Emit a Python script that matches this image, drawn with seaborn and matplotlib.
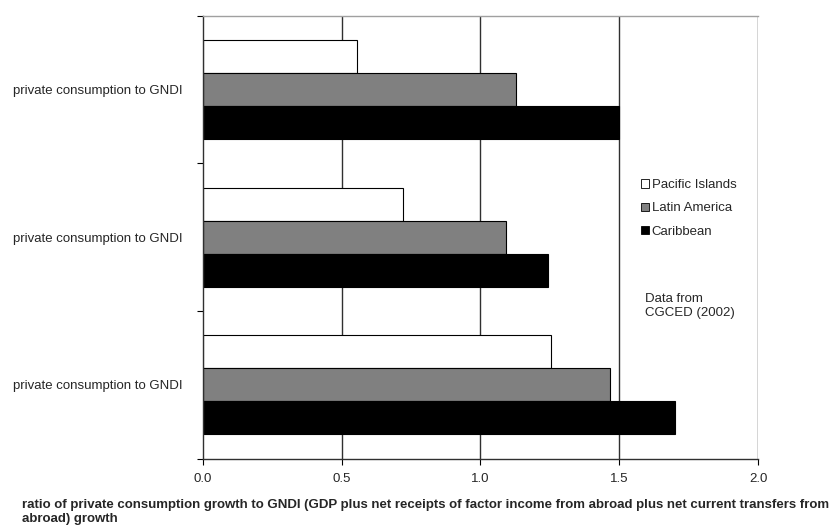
import matplotlib
matplotlib.use("Agg")
import matplotlib.pyplot as plt
import seaborn as sns
import pandas as pd

periods = ["p1", "p2", "p3"]
period_labels = ["private consumption to GNDI", "private consumption to GNDI", "private consumption to GNDI"]
regions = ["Pacific Islands", "Latin America", "Caribbean"]
pacific = [0.555, 0.72, 1.253]
latin = [1.13, 1.094, 1.466]
caribbean = [1.50, 1.242, 1.70]
xticks = [0.0, 0.5, 1.0, 1.5, 2.0]
xlabel = ("ratio of private consumption growth to GNDI (GDP plus net receipts of factor income from abroad plus net current transfers from\n"
          "abroad) growth")
note = "Data from\nCGCED (2002)"

rows = []
for i, p in enumerate(periods):
    rows.append((p, regions[0], pacific[i]))
    rows.append((p, regions[1], latin[i]))
    rows.append((p, regions[2], caribbean[i]))
df = pd.DataFrame(rows, columns=["period", "region", "value"])

sns.set_style("white")
plt.rcParams['font.family'] = ['Liberation Sans', 'DejaVu Sans']

W, H = 838, 526
fig = plt.figure(figsize=(W / 100, H / 100), dpi=100)
left, right, top, bottom = 202.7, 758.0, 15.7, 458.5
ax = fig.add_axes([left / W, 1 - bottom / H, (right - left) / W, (bottom - top) / H])

palette = {"Pacific Islands": "#ffffff", "Latin America": "#808080", "Caribbean": "#000000"}
sns.barplot(data=df, y="period", x="value", hue="region", order=periods, hue_order=regions,
            palette=palette, orient="h", width=0.67, edgecolor="black", linewidth=0.8,
            saturation=1, ax=ax, legend=True)

ax.set_xlim(0, 2.0)
ax.set_ylim(2.5, -0.5)
ax.set_xticks(xticks)
ax.set_xticklabels([f"{t:.1f}" for t in xticks], fontsize=9.5)
ax.set_yticks([0, 1, 2])
ax.set_yticklabels(period_labels, fontsize=9.5)
ax.tick_params(axis='y', length=0, pad=14.5)
ax.tick_params(axis='x', length=4, width=0.8, color='black', pad=6.8, bottom=True)
ax.set_yticks([-0.5, 0.5, 1.5, 2.5], minor=True)
ax.tick_params(axis='y', which='minor', length=4, width=0.8, color='black', left=True)
ax.set_xlabel("")
ax.set_ylabel("")

for x in xticks[1:]:
    ax.axvline(x, color='#303030', lw=1.0, zorder=0)
ax.set_axisbelow(True)

ax.spines["right"].set_visible(False)
ax.spines["top"].set_color("#a0a0a0")
ax.spines["top"].set_linewidth(1.0)
for s in ["left", "bottom"]:
    ax.spines[s].set_color("#303030")
    ax.spines[s].set_linewidth(1.0)

leg = ax.legend(loc="upper left", bbox_to_anchor=(641 / W, 1 - 179 / H),
                bbox_transform=fig.transFigure, frameon=False, fontsize=9.5,
                handlelength=0.6, handleheight=0.6, handletextpad=0.2, labelspacing=0.86,
                borderaxespad=0, borderpad=0)
for h in leg.legend_handles:
    h.set_edgecolor("black")
    h.set_linewidth(0.6)

fig.text(645 / W, 1 - 306 / H, note, fontsize=9.5, ha="left", va="center", linespacing=1.2)
fig.text(22 / W, 1 - 512 / H, xlabel, fontsize=9.5, fontweight="bold", ha="left", va="center",
         linespacing=1.2)

fig.savefig("out.png", dpi=100)
